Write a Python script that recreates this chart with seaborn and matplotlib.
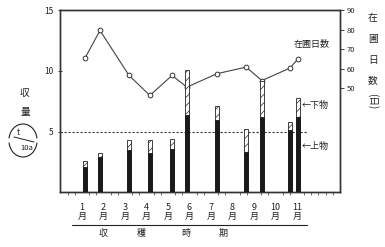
import numpy as np
import pandas as pd
import matplotlib
matplotlib.use("Agg")
import matplotlib.pyplot as plt
import seaborn as sns
from matplotlib.patches import Arc
from matplotlib.lines import Line2D

# ---- data ----
month_labels = ["1\n月", "2\n月", "3\n月", "4\n月", "5\n月", "6\n月",
                "7\n月", "8\n月", "9\n月", "10\n月", "11\n月"]
month_pos = [1, 2, 3, 4, 5, 6, 7, 8, 9, 10, 11]
harvest_pos = [1.14, 1.84, 3.19, 4.16, 5.19, 5.88, 7.28, 8.63, 9.37, 10.67, 11.05]
upper_yield = [2.10, 2.90, 3.48, 3.23, 3.54, 6.38, 5.97, 3.34, 6.19, 5.14, 6.19]   # 上物
total_yield = [2.59, 3.26, 4.31, 4.31, 4.39, 10.05, 7.12, 5.19, 9.14, 5.82, 7.76]  # 上物+下物
days_in_field = [65.4, 79.7, 56.5, 46.2, 56.5, 50.5, 57.4, 60.8, 53.9, 60.3, 65.1]  # 在圃日数
left_ticks = [5, 10, 15]
right_ticks = [50, 60, 70, 80, 90]
reference_level = 5

df = pd.DataFrame({"pos": harvest_pos, "upper": upper_yield,
                   "total": total_yield, "days": days_in_field})

sns.set_theme(style="ticks")
plt.rcParams["font.family"] = ["Noto Sans CJK JP", "DejaVu Sans"]
plt.rcParams["hatch.linewidth"] = 0.5
INK = "#222222"

W, H = 385, 247
fig = plt.figure(figsize=(W / 100, H / 100), dpi=100)


def P(x, y):
    return (x / W, 1 - y / H)


ax = fig.add_axes([60 / W, 55 / H, 280 / W, 181.5 / H])
ax2 = ax.twinx()
ax.set_zorder(2)
ax.patch.set_visible(False)

# bars
min_gap = np.min(np.diff(np.sort(df["pos"].values)))
bw = 0.16 / min_gap
sns.barplot(data=df, x="pos", y="total", native_scale=True, width=bw,
            color="white", edgecolor=INK, linewidth=0.6, hatch="////",
            errorbar=None, saturation=1, ax=ax, zorder=3)
sns.barplot(data=df, x="pos", y="upper", native_scale=True, width=bw,
            color="#1a1a1a", edgecolor="#1a1a1a", linewidth=0.6,
            errorbar=None, saturation=1, ax=ax, zorder=4)

ax.axhline(reference_level, xmin=0, xmax=(307 - 60) / 280, ls=(0, (2, 1.6)),
           lw=0.8, color="#333333", zorder=1)

# line of days in field
sns.lineplot(data=df, x="pos", y="days", ax=ax2, color="#444444", lw=0.8,
             marker="o", markersize=3.4, markerfacecolor="white",
             markeredgecolor="#333333", markeredgewidth=0.7)

ax.set_xlim(-0.02, 13.0)
ax.set_ylim(0, 15)
ax2.set_ylim(-3.6, 90)

ax.set_yticks(left_ticks)
ax.set_yticklabels([str(t) for t in left_ticks])
ax.tick_params(axis="y", left=True, direction="inout", length=3, width=0.6,
               labelsize=6, pad=3, colors=INK)
ax2.set_yticks(right_ticks)
ax2.set_yticklabels([str(t) for t in right_ticks])
ax2.tick_params(axis="y", right=True, direction="out", length=3, width=0.6,
                labelsize=5.5, pad=2, colors=INK)

ax.set_xticks(month_pos)
ax.set_xticklabels(month_labels, fontsize=6.5, linespacing=1.0)
ax.tick_params(axis="x", which="major", length=0, pad=8, colors=INK)
ax.set_xticks(np.arange(1 / 3, 13, 1 / 3), minor=True)
ax.tick_params(axis="x", which="minor", bottom=True, length=2, width=0.6,
               direction="out", color="#555555")

for a in (ax, ax2):
    a.set_xlabel("")
    a.set_ylabel("")
    for s in a.spines.values():
        s.set_visible(True)
        s.set_linewidth(1.0)
        s.set_color("#333333")

# annotations
fig.text(*P(312, 44), "在圃日数", ha="center", va="center", fontsize=6.5, color=INK)
fig.text(*P(302, 105), "←下物", ha="left", va="center", fontsize=6.5, color=INK)
fig.text(*P(302, 146), "←上物", ha="left", va="center", fontsize=6.5, color=INK)

# right axis label (vertical)
for ch, y in zip(["在", "圃", "日", "数"], [18, 39, 60, 80]):
    fig.text(*P(373, y), ch, ha="center", va="center", fontsize=7, color=INK)
fig.text(*P(373, 101), "(日)", ha="center", va="center", fontsize=7,
         rotation=-90, color=INK)

# left axis label
fig.text(*P(25, 93), "収", ha="center", va="center", fontsize=7, color=INK)
fig.text(*P(25, 112), "量", ha="center", va="center", fontsize=7, color=INK)
fig.text(*P(18, 132), "t", ha="center", va="center", fontsize=6, color=INK)
fig.text(*P(27, 148), "10a", ha="center", va="center", fontsize=5.5, color=INK)
fig.add_artist(Line2D([14 / W, 34 / W], [1 - 137 / H, 1 - 142 / H],
                      transform=fig.transFigure, lw=0.7, color=INK))
fig.add_artist(Arc(P(23, 140), 28 / W, 32 / H, theta1=10, theta2=170,
                   transform=fig.transFigure, lw=0.8, color=INK))
fig.add_artist(Arc(P(23, 141), 28 / W, 32 / H, theta1=190, theta2=350,
                   transform=fig.transFigure, lw=0.8, color=INK))

# bottom label
for ch, x in zip("収穫時期", [103, 141, 186, 223]):
    fig.text(*P(x, 233), ch, ha="center", va="center", fontsize=6.5, color=INK)
fig.add_artist(Line2D([72 / W, 307 / W], [1 - 225 / H, 1 - 225 / H],
                      transform=fig.transFigure, lw=0.8, color=INK))

fig.savefig("out.png", dpi=100)
